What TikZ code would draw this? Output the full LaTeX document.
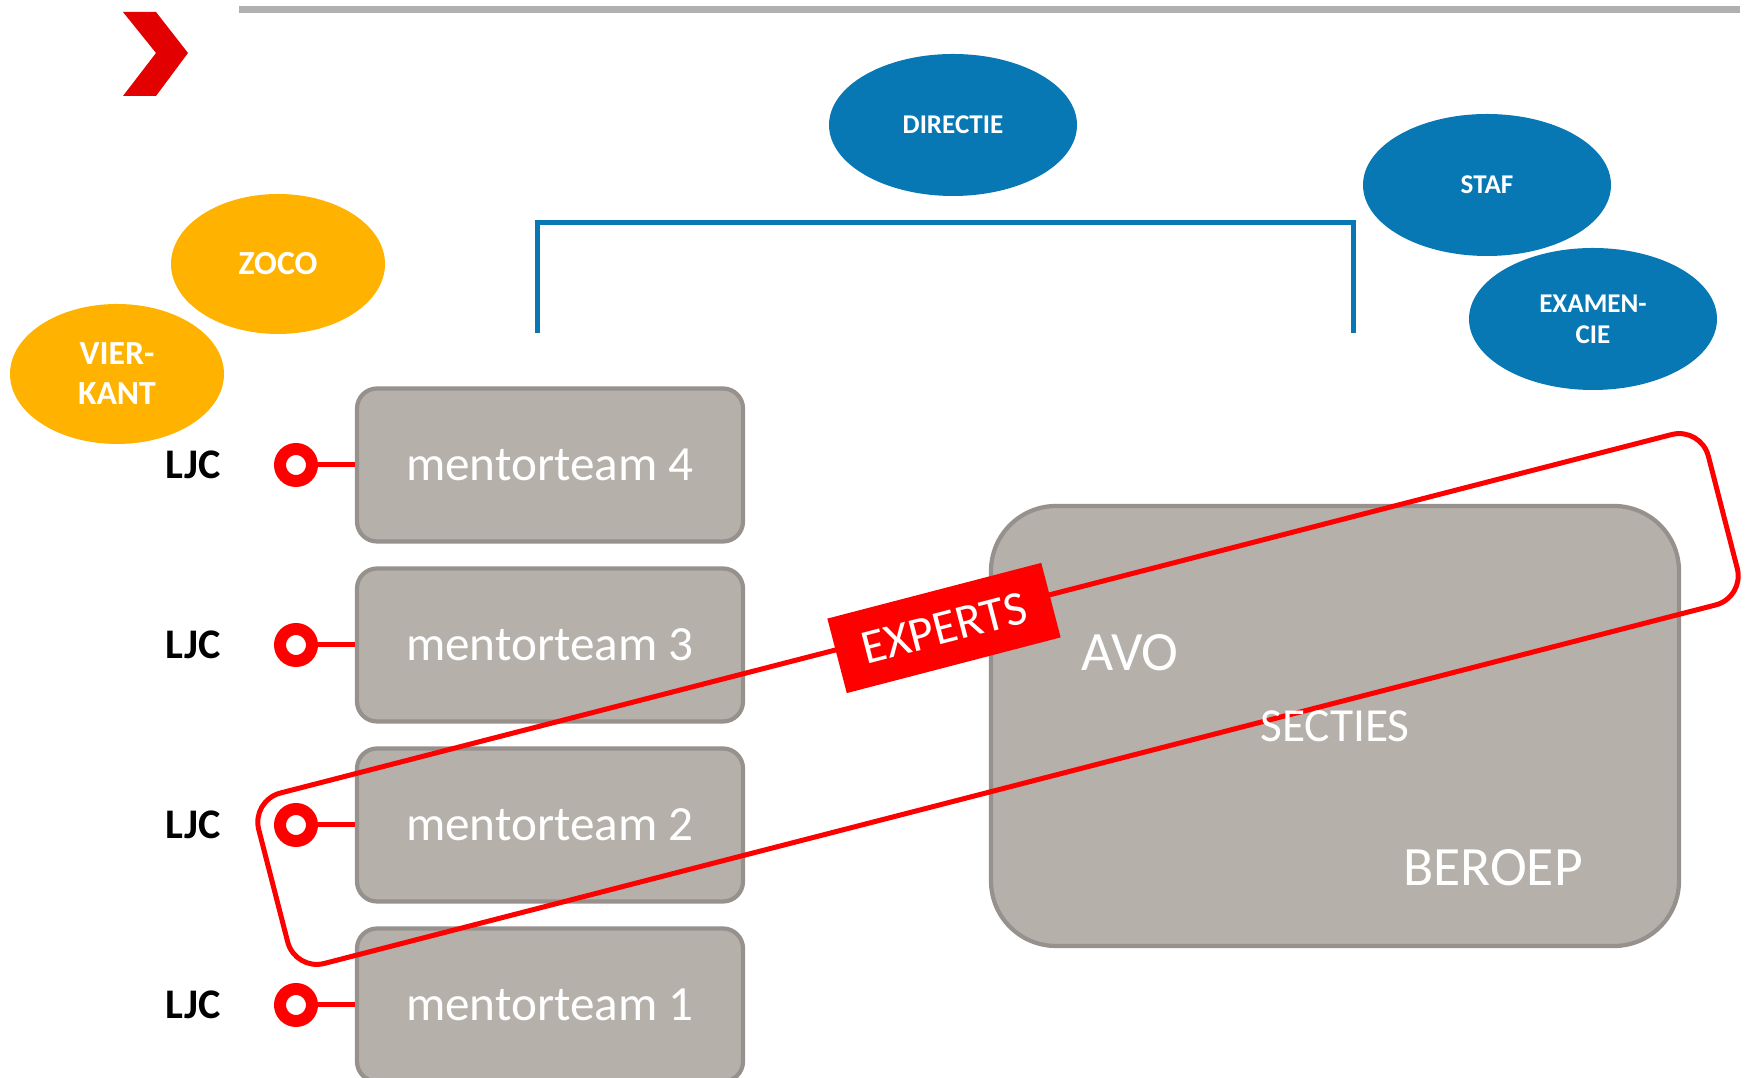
\documentclass[tikz,border=0pt]{standalone}
\usepackage{fontspec}
\setmainfont{Carlito}
\usetikzlibrary{shapes.geometric}

\definecolor{orgblue}{HTML}{0878B5}
\definecolor{orgorange}{HTML}{FFB300}
\definecolor{orgred}{HTML}{FF0000}
\definecolor{chevred}{HTML}{E30000}
\definecolor{boxgray}{HTML}{B5B0AA}
\definecolor{boxedge}{HTML}{96918C}
\definecolor{linegray}{HTML}{B0B0B0}

\tikzstyle{blueoval} = [ellipse, minimum width=2.48cm, minimum height=1.42cm, inner sep=0pt, fill=orgblue, text=white, align=center, font=\bfseries\fontsize{7.7}{8.9}\selectfont]
\tikzstyle{orangeoval} = [ellipse, minimum width=2.14cm, minimum height=1.40cm, inner sep=0pt, fill=orgorange, text=white, align=center, font=\bfseries\fontsize{9.6}{11.4}\selectfont]
\tikzstyle{team} = [rectangle, rounded corners=0.2cm, minimum width=3.86cm, minimum height=1.53cm, fill=boxgray, draw=boxedge, line width=1.2pt, text=white, font=\fontsize{14}{17}\selectfont]
\tikzstyle{bigbox} = [rectangle, rounded corners=0.65cm, minimum width=6.88cm, minimum height=4.40cm, fill=boxgray, draw=boxedge, line width=1.2pt]
\tikzstyle{bigtext} = [text=white, inner sep=0pt, font=\fontsize{15.8}{18}\selectfont]
\tikzstyle{ring} = [circle, minimum size=0.32cm, inner sep=0pt, draw=orgred, fill=white, line width=0.12cm]
\tikzstyle{ljc} = [font=\bfseries\fontsize{12}{14}\selectfont]
\tikzstyle{ljcline} = [draw=orgred, line width=0.05cm]
\tikzstyle{bracket} = [draw=orgblue, line width=0.05cm]
\tikzstyle{expertloop} = [rectangle, rounded corners=0.3cm, minimum width=14.97cm, minimum height=1.76cm, draw=orgred, line width=0.05cm]
\tikzstyle{expertlabel} = [rectangle, minimum width=2.21cm, minimum height=0.77cm, fill=orgred, text=white, font=\fontsize{13.8}{16}\selectfont]

\begin{document}
\begin{tikzpicture}[node distance=1.8cm]
\useasboundingbox (0,0) rectangle (17.52,-10.78);

% header
\fill [chevred] (1.23,-0.12) -- (1.56,-0.12) -- (1.88,-0.53) -- (1.56,-0.96) -- (1.23,-0.96) -- (1.56,-0.53) -- cycle;
\draw [linegray, line width=0.07cm] (2.39,-0.10) -- (17.40,-0.10);

% ovals
\node (dir) [blueoval] at (9.53,-1.25) {DIRECTIE};
\node (staf) [blueoval] at (14.87,-1.85) {STAF};
\node (exam) [blueoval] at (15.93,-3.19) {EXAMEN-\\CIE};
\node (zoco) [orangeoval] at (2.78,-2.64) {ZOCO};
\node (vier) [orangeoval] at (1.17,-3.74) {VIER-\\KANT};

% bracket under directie
\coordinate (bl) at (5.37,-3.33);
\coordinate (br) at (13.53,-3.33);
\draw [bracket] (bl) -- ++(0,1.1) -| (br);

% mentorteams
\node (m4) [team] at (5.50,-4.65) {mentorteam 4};
\node (m3) [team, below of=m4] {mentorteam 3};
\node (m2) [team, below of=m3] {mentorteam 2};
\node (m1) [team, below of=m2] {mentorteam 1};

\node (r4) [ring, left of=m4, xshift=-0.74cm] {};
\node (r3) [ring, left of=m3, xshift=-0.74cm] {};
\node (r2) [ring, left of=m2, xshift=-0.74cm] {};
\node (r1) [ring, left of=m1, xshift=-0.74cm] {};

\node (l4) [ljc, left of=r4, xshift=0.77cm] {LJC};
\node (l3) [ljc, left of=r3, xshift=0.77cm] {LJC};
\node (l2) [ljc, left of=r2, xshift=0.77cm] {LJC};
\node (l1) [ljc, left of=r1, xshift=0.77cm] {LJC};

\draw [ljcline] (r4) -- (m4);
\draw [ljcline] (r3) -- (m3);
\draw [ljcline] (r2) -- (m2);
\draw [ljcline] (r1) -- (m1);

% secties
\node (sec) [bigbox] at (13.35,-7.26) {};

% experts
\node (loop) [expertloop, rotate=14.45] at (9.98,-6.99) {};
\node (exp) [expertlabel, rotate=14.6] at (9.44,-6.28) {EXPERTS};

\node (sectxt) [bigtext, font=\fontsize{13.5}{16}\selectfont] at (sec) {SECTIES};
\node (avo) [bigtext] at (11.30,-6.53) {AVO};
\node (beroep) [bigtext] at (14.93,-8.68) {BEROEP};
\end{tikzpicture}
\end{document}
